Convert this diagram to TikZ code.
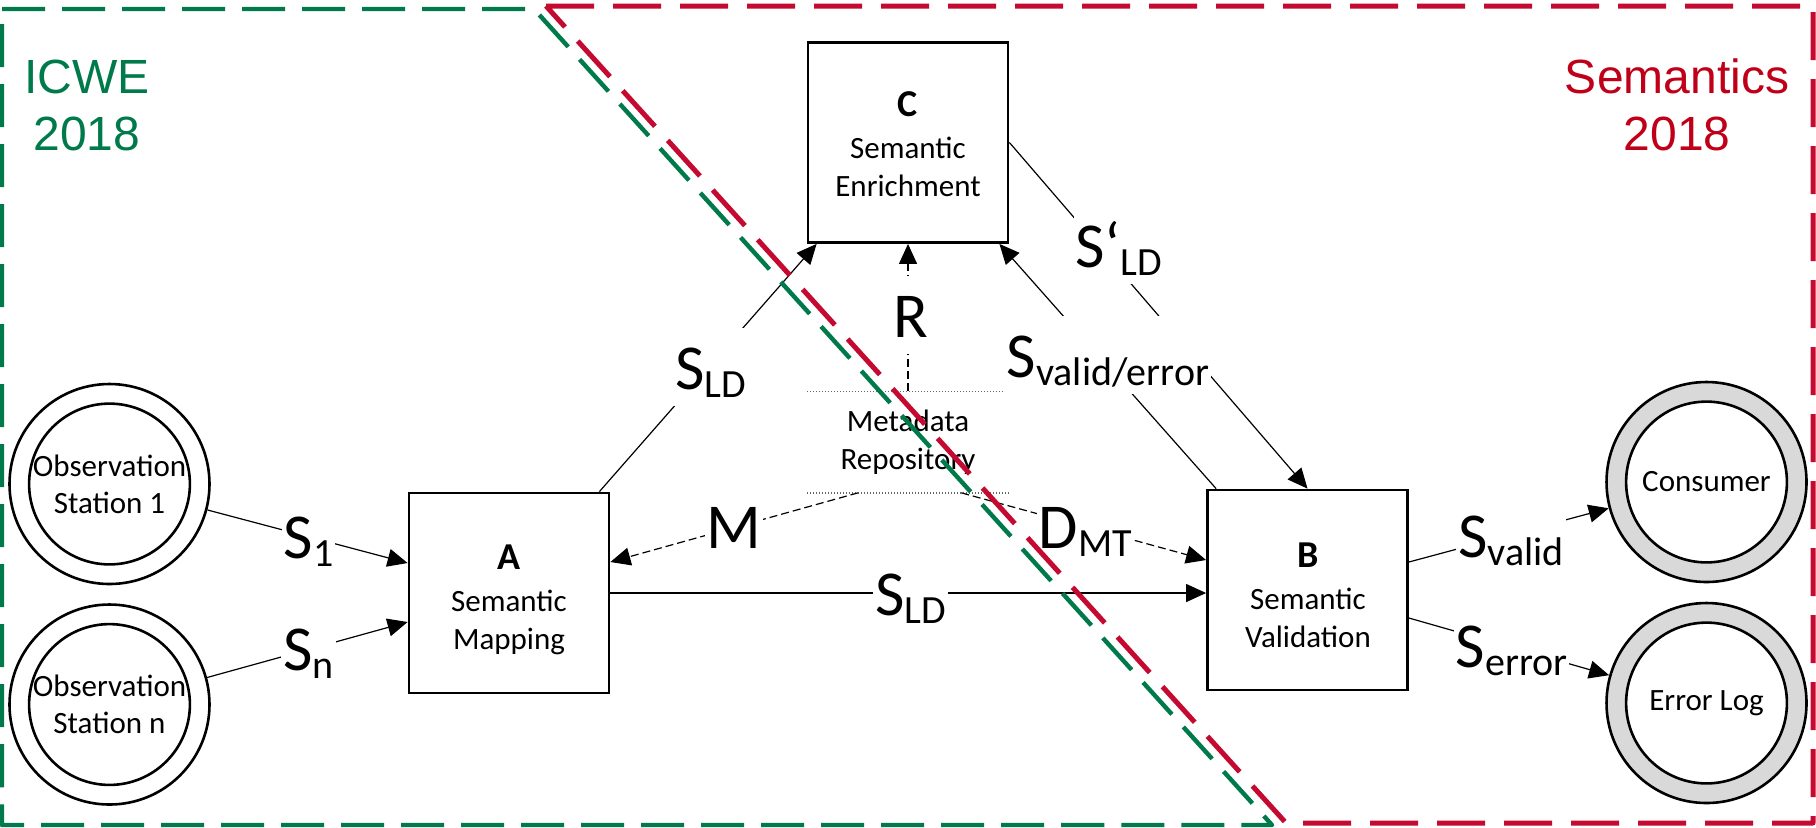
\documentclass[tikz,border=0pt]{standalone}
\usepackage{fontspec}
\setmainfont{Carlito}
\newfontfamily\arialfont{Liberation Sans}
\usetikzlibrary{arrows.meta,calc}

\definecolor{icwegreen}{RGB}{0,122,74}
\definecolor{semred}{RGB}{196,10,48}
\definecolor{semtext}{RGB}{192,0,24}
\definecolor{ringgray}{RGB}{217,217,217}

% stream label: symbol with a lowered subscript
\newcommand{\flowlab}[2]{#1\raisebox{-2pt}{\fontsize{10pt}{12pt}\selectfont #2}}

\tikzset{
  procbox/.style={draw, line width=0.7pt, minimum width=50pt, minimum height=50pt, inner sep=0pt},
  proctext/.style={align=center, inner sep=0pt, font=\fontsize{7.75pt}{9.5pt}\selectfont},
  station/.style={circle, draw, line width=0.65pt, fill=white, minimum size=50pt, inner sep=0pt,
    align=center, font=\fontsize{7.75pt}{9.25pt}\selectfont,
    path picture={\draw[line width=0.65pt, fill=white] (path picture bounding box.center) circle[radius=20.1pt];}},
  store/.style={minimum width=50pt, minimum height=25pt, inner sep=0pt, align=center,
    font=\fontsize{7.75pt}{9.5pt}\selectfont},
  dotline/.style={line width=0.35pt, black!60, dash pattern=on 0.3pt off 0.45pt},
  flow/.style={line width=0.3pt, -{Triangle[length=5pt,width=4.5pt]}},
  dataflow/.style={flow, dash pattern=on 2pt off 1pt},
  flowlabel/.style={fill=white, anchor=base, inner xsep=0.5pt, inner ysep=0pt,
    text height=15.2pt, text depth=4.3pt, font=\fontsize{16pt}{19pt}\selectfont},
  venue/.style={align=center, inner sep=0pt, font=\arialfont\fontsize{12pt}{14.25pt}\selectfont},
  icwezone/.style={draw=icwegreen, line width=1.1pt, dash pattern=on 10.75pt off 4.25pt, line join=round},
  semzone/.style={draw=semred, line width=1.25pt, dash pattern=on 12pt off 4.75pt, line join=round},
}

\begin{document}
\begin{tikzpicture}[x=0.25pt, y=-0.25pt]
\useasboundingbox (0,0) rectangle (1816,827);
\fill[white] (0,0) rectangle (1816,827);

% processing steps
\node[procbox] (A) at (509,593) {};
\node[procbox] (C) at (908,142.5) {};
\node[procbox] (B) at (1307.5,590) {};
\node[proctext] (Atext) at (509,600) {{\fontsize{9.5pt}{9.5pt}\selectfont\bfseries A}\\[1pt]Semantic\\Mapping};
\node[proctext] (Ctext) at (908,144) {{\fontsize{9.5pt}{9.5pt}\selectfont\bfseries C}\\[1pt]Semantic\\Enrichment};
\node[proctext] (Btext) at (1308,595) {{\fontsize{9.5pt}{9.5pt}\selectfont\bfseries B}\\[1pt]Semantic\\Validation};

% sources and sinks
\node[station] (O1) at (109.5,484) {Observation\\Station 1};
\node[station] (On) at (109.5,704.5) {Observation\\Station n};
\node[station, fill=ringgray] (Cons) at (1706.5,482) {Consumer};
\node[station, fill=ringgray] (Err) at (1706.5,703) {Error Log};

% data store
\node[store] (MR) at (908,442) {Metadata\\Repository};
\draw[dotline] (MR.north west) -- (MR.north east);
\draw[dotline] (MR.south west) -- (MR.south east);

% attachment points
\coordinate (A-in1) at ($(A.west)+(0,-30)$);
\coordinate (A-in2) at ($(A.west)+(0,29)$);
\coordinate (A-out) at ($(A.north east)+(-11,0)$);
\coordinate (A-m) at ($(A.east)+(0,-31)$);
\coordinate (C-in1) at ($(C.south west)+(10,0)$);
\coordinate (C-in3) at ($(C.south east)+(-10,0)$);
\coordinate (B-up) at ($(B.north west)+(10,0)$);
\coordinate (B-d) at ($(B.west)+(0,-30)$);
\coordinate (B-v) at ($(B.east)+(0,-28)$);
\coordinate (B-e) at ($(B.east)+(0,28)$);
\coordinate (MR-m) at ($(MR.south west)+(51,0)$);
\coordinate (MR-d) at ($(MR.south west)+(154,0)$);

% streams
\draw[flow] (O1) -- (A-in1);
\draw[flow] (On) -- (A-in2);
\draw[flow] (A-out) -- (C-in1);
\draw[flow] (A.east) -- (A.east -| B.west);
\draw[dataflow] (MR-m) -- (A-m);
\draw[dataflow] (MR-d) -- (B-d);
\draw[dataflow] (MR.north) -- (C.south);
\draw[flow] (C.east) -- (B.north);
\draw[flow] (B-up) -- (C-in3);
\draw[flow] (B-v) -- (Cons);
\draw[flow] (B-e) -- (Err);

% stream labels
\node[flowlabel] (l-s1) at (308.5,558) {\flowlab{S}{1}};
\node[flowlabel] (l-sn) at (308.5,670) {\flowlab{S}{n}};
\node[flowlabel] (l-sld) at (710.5,389) {\flowlab{S}{LD}};
\node[flowlabel] (l-m) at (734,548) {M};
\node[flowlabel] (l-r) at (911,337) {R};
\node[flowlabel] (l-sld2) at (1119,267) {\flowlab{S‘}{LD}};
\node[flowlabel] (l-sve) at (1108,377) {\flowlab{S}{valid/error}};
\node[flowlabel] (l-dmt) at (1085.5,548) {\flowlab{D}{MT}};
\node[flowlabel] (l-sld3) at (910.5,615) {\flowlab{S}{LD}};
\node[flowlabel] (l-sv) at (1511,557) {\flowlab{S}{valid}};
\node[flowlabel] (l-se) at (1511.5,667) {\flowlab{S}{error}};

% venues
\node[venue, text=icwegreen] (icwe) at (87,105) {ICWE\\2018};
\node[venue, text=semtext] (sem) at (1677,105) {Semantics\\2018};

% scope frames
\draw[icwezone] (2,9) -- (534,9) -- (1272,825) -- (2,825) -- cycle;
\draw[semzone] (546,6) -- (1813,6) -- (1813,823) -- (1286,823) -- cycle;
\end{tikzpicture}
\end{document}
